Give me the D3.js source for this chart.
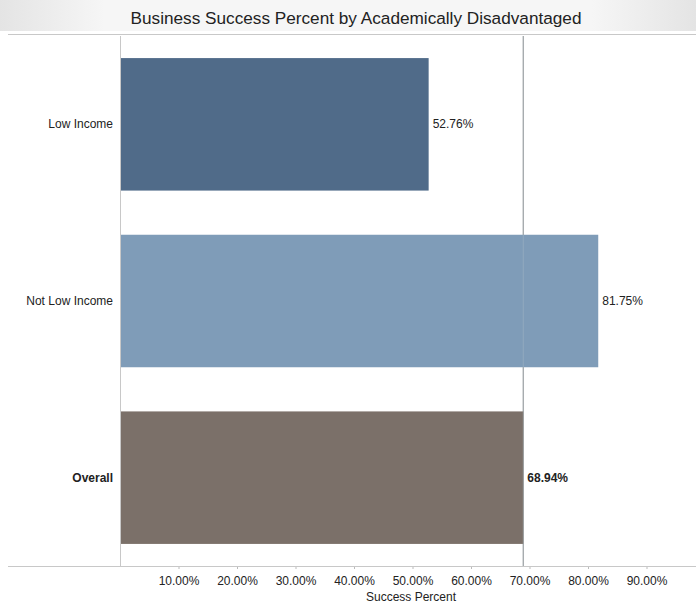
<!DOCTYPE html>
<html>
<head>
<meta charset="utf-8">
<script src="https://cdn.jsdelivr.net/npm/d3@7"></script>
<style>
  html, body { margin: 0; padding: 0; background: #fff; }
  svg { display: block; font-family: "Liberation Sans", Arial, sans-serif; }
</style>
</head>
<body>
<svg id="chart" width="696" height="605"></svg>
<script>
const categories = ["Low Income", "Not Low Income", "Overall"];
const values = [52.76, 81.75, 68.94];
const barColors = ["#506b89", "#7f9cb8", "#7b7069"];
const boldFlags = [false, false, true];
const tickValues = [10, 20, 30, 40, 50, 60, 70, 80, 90];
const referenceValue = 68.94;
const title = "Business Success Percent by Academically Disadvantaged";
const xTitle = "Success Percent";

const svg = d3.select("#chart");
const W = 696, H = 605;
const m = { left: 120, top: 36, bottom: 566 };

// header band
const grad = svg.append("defs").append("linearGradient").attr("id", "hdr")
  .attr("x1", 0).attr("x2", 1).attr("y1", 0).attr("y2", 0);
grad.append("stop").attr("offset", "0%").attr("stop-color", "#e4e4e4");
grad.append("stop").attr("offset", "15%").attr("stop-color", "#f6f6f6");
grad.append("stop").attr("offset", "85%").attr("stop-color", "#f6f6f6");
grad.append("stop").attr("offset", "100%").attr("stop-color", "#e4e4e4");
svg.append("rect").attr("x", 0).attr("y", 0).attr("width", W).attr("height", 31).attr("fill", "url(#hdr)");
svg.append("text").attr("x", 356).attr("y", 24).attr("text-anchor", "middle")
  .attr("font-size", 17.2).attr("fill", "#222").text(title);

// frame lines
svg.append("line").attr("x1", 8).attr("x2", W).attr("y1", 34.5).attr("y2", 34.5)
  .attr("stroke", "#c8c8c8").attr("stroke-width", 1);

const x = d3.scaleLinear().domain([0, 100]).range([120, 705]);
const y = d3.scaleBand().domain(categories).range([m.top, m.bottom]).paddingInner(0.25).paddingOuter(0.125);

// reference line (behind bars)
svg.append("line").attr("x1", x(referenceValue)).attr("x2", x(referenceValue))
  .attr("y1", m.top).attr("y2", m.bottom)
  .attr("stroke", "#9a9a9a").attr("stroke-width", 1.2);

// bars
svg.append("g").selectAll("rect").data(categories).join("rect")
  .attr("x", x(0))
  .attr("y", d => y(d))
  .attr("width", (d, i) => x(values[i]) - x(0))
  .attr("height", y.bandwidth())
  .attr("fill", (d, i) => barColors[i]);

// faint reference line showing through bars
svg.append("line").attr("x1", x(referenceValue)).attr("x2", x(referenceValue))
  .attr("y1", m.top).attr("y2", m.bottom)
  .attr("stroke", "#b0bcc8").attr("stroke-opacity", 0.35).attr("stroke-width", 1.2);

// left axis line
svg.append("line").attr("x1", 120.5).attr("x2", 120.5).attr("y1", m.top).attr("y2", m.bottom)
  .attr("stroke", "#c8c8c8");

// value labels
svg.append("g").selectAll("text").data(categories).join("text")
  .attr("x", (d, i) => x(values[i]) + 4)
  .attr("y", d => y(d) + y.bandwidth() / 2 + 4)
  .attr("font-size", 12)
  .attr("font-weight", (d, i) => boldFlags[i] ? "bold" : "normal")
  .attr("fill", "#222")
  .text((d, i) => values[i].toFixed(2) + "%");

// category labels
svg.append("g").selectAll("text").data(categories).join("text")
  .attr("x", 113)
  .attr("y", d => y(d) + y.bandwidth() / 2 + 4)
  .attr("text-anchor", "end")
  .attr("font-size", 12)
  .attr("font-weight", (d, i) => boldFlags[i] ? "bold" : "normal")
  .attr("fill", "#222")
  .text(d => d);

// x axis
const xAxis = d3.axisBottom(x).tickValues(tickValues).tickSize(3).tickFormat(d => d.toFixed(2) + "%");
const gx = svg.append("g").attr("transform", `translate(0,${m.bottom})`).call(xAxis);
gx.select(".domain").remove();
gx.selectAll(".tick line").attr("stroke", "#bbb");
gx.selectAll(".tick text").attr("font-size", 12).attr("fill", "#222").attr("dy", "1.05em")
  .attr("font-family", "Liberation Sans, Arial, sans-serif");
svg.append("line").attr("x1", 8).attr("x2", W).attr("y1", m.bottom + 0.5).attr("y2", m.bottom + 0.5)
  .attr("stroke", "#c8c8c8");

svg.append("text").attr("x", 411).attr("y", 601).attr("text-anchor", "middle")
  .attr("font-size", 12).attr("fill", "#222").text(xTitle);
</script>
</body>
</html>
